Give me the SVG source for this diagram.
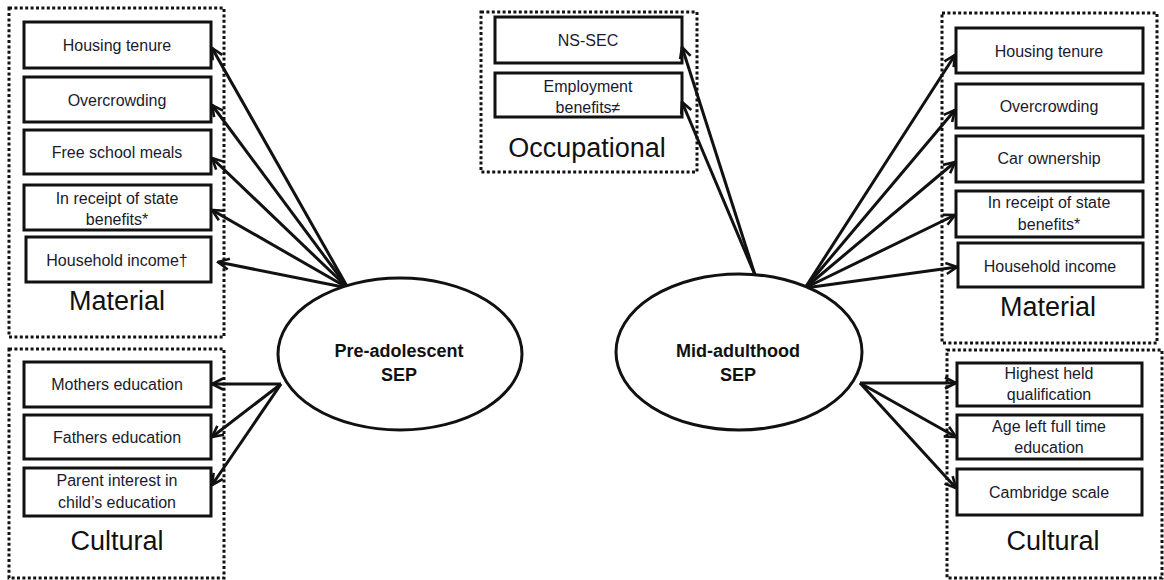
<svg xmlns="http://www.w3.org/2000/svg" width="1164" height="580" viewBox="0 0 1164 580">
  <style>
    .group { fill: none; stroke: #111; stroke-width: 3; stroke-dasharray: 3 2.4; }
    .box { fill: #fff; stroke: #111; stroke-width: 3; }
    .item { font-family: "Liberation Sans", Arial, sans-serif; font-size: 16px; fill: #1a1a2e; text-anchor: middle; }
    .glabel { font-family: "Liberation Sans", Arial, sans-serif; font-size: 27px; fill: #111; text-anchor: middle; }
    .latent { fill: #fff; stroke: #111; stroke-width: 3; }
    .ltext { font-family: "Liberation Sans", Arial, sans-serif; font-size: 18px; font-weight: bold; fill: #111; text-anchor: middle; }
    .edge { stroke: #111; stroke-width: 3; fill: none; marker-end: url(#open); }
  </style>
  <defs>
    <marker id="open" viewBox="0 0 14 14" refX="12.5" refY="7" markerWidth="14" markerHeight="14" markerUnits="userSpaceOnUse" orient="auto">
      <path d="M1.5,1.5 L12.5,7 L1.5,12.5" fill="none" stroke="#111" stroke-width="2.6" stroke-linejoin="miter"/>
    </marker>
  </defs>

  <rect width="1164" height="580" fill="#fff"/>

  <!-- Pre-adolescent material indicators -->
  <g id="pre-material">
    <rect class="group" x="9" y="8" width="215" height="329"/>
    <text class="glabel" x="117" y="310">Material</text>
  </g>
  <g id="pre-housing-tenure">
    <rect class="box" x="24" y="22" width="187" height="46"/>
    <text class="item" x="117" y="51">Housing tenure</text>
  </g>
  <g id="pre-overcrowding">
    <rect class="box" x="24" y="77" width="187" height="45"/>
    <text class="item" x="117" y="106">Overcrowding</text>
  </g>
  <g id="pre-free-school-meals">
    <rect class="box" x="24" y="130" width="187" height="44"/>
    <text class="item" x="117" y="158">Free school meals</text>
  </g>
  <g id="pre-state-benefits">
    <rect class="box" x="24" y="185" width="187" height="45"/>
    <text class="item" x="117" y="204">In receipt of state</text>
    <text class="item" x="117" y="225">benefits*</text>
  </g>
  <g id="pre-household-income">
    <rect class="box" x="26" y="237" width="185" height="45"/>
    <text class="item" x="117" y="266">Household income†</text>
  </g>

  <!-- Pre-adolescent cultural indicators -->
  <g id="pre-cultural">
    <rect class="group" x="9" y="349" width="215" height="229"/>
    <text class="glabel" x="117" y="550">Cultural</text>
  </g>
  <g id="pre-mothers-education">
    <rect class="box" x="24" y="362" width="187" height="45"/>
    <text class="item" x="117" y="390">Mothers education</text>
  </g>
  <g id="pre-fathers-education">
    <rect class="box" x="24" y="415" width="187" height="44"/>
    <text class="item" x="117" y="443">Fathers education</text>
  </g>
  <g id="pre-parent-interest">
    <rect class="box" x="24" y="468" width="187" height="48"/>
    <text class="item" x="117" y="486">Parent interest in</text>
    <text class="item" x="117" y="508">child’s education</text>
  </g>

  <!-- Occupational indicators -->
  <g id="occupational">
    <rect class="group" x="481" y="12" width="216" height="160"/>
    <text class="glabel" x="587" y="157">Occupational</text>
  </g>
  <g id="ns-sec">
    <rect class="box" x="495" y="17" width="187" height="46"/>
    <text class="item" x="588" y="46">NS-SEC</text>
  </g>
  <g id="employment-benefits">
    <rect class="box" x="495" y="73" width="187" height="44"/>
    <text class="item" x="588" y="92">Employment</text>
    <text class="item" x="588" y="113">benefits≠</text>
  </g>

  <!-- Mid-adulthood material indicators -->
  <g id="mid-material">
    <rect class="group" x="942" y="13" width="215" height="330"/>
    <text class="glabel" x="1048" y="316">Material</text>
  </g>
  <g id="mid-housing-tenure">
    <rect class="box" x="956" y="28" width="187" height="45"/>
    <text class="item" x="1049" y="57">Housing tenure</text>
  </g>
  <g id="mid-overcrowding">
    <rect class="box" x="956" y="84" width="187" height="44"/>
    <text class="item" x="1049" y="112">Overcrowding</text>
  </g>
  <g id="mid-car-ownership">
    <rect class="box" x="956" y="136" width="187" height="46"/>
    <text class="item" x="1049" y="164">Car ownership</text>
  </g>
  <g id="mid-state-benefits">
    <rect class="box" x="956" y="191" width="187" height="46"/>
    <text class="item" x="1049" y="208">In receipt of state</text>
    <text class="item" x="1049" y="230">benefits*</text>
  </g>
  <g id="mid-household-income">
    <rect class="box" x="958" y="243" width="185" height="44"/>
    <text class="item" x="1050" y="272">Household income</text>
  </g>

  <!-- Mid-adulthood cultural indicators -->
  <g id="mid-cultural">
    <rect class="group" x="947" y="350" width="215" height="228"/>
    <text class="glabel" x="1053" y="550">Cultural</text>
  </g>
  <g id="mid-highest-qualification">
    <rect class="box" x="957" y="363" width="185" height="43"/>
    <text class="item" x="1049" y="379">Highest held</text>
    <text class="item" x="1049" y="400">qualification</text>
  </g>
  <g id="mid-age-left-education">
    <rect class="box" x="957" y="415" width="185" height="44"/>
    <text class="item" x="1049" y="432">Age left full time</text>
    <text class="item" x="1049" y="453">education</text>
  </g>
  <g id="mid-cambridge-scale">
    <rect class="box" x="957" y="469" width="185" height="46"/>
    <text class="item" x="1049" y="498">Cambridge scale</text>
  </g>

  <!-- Loadings from each latent SEP construct to its indicators -->
  <g id="connectors">
    <line class="edge" x1="348" y1="288" x2="212" y2="48"/>
    <line class="edge" x1="348" y1="288" x2="212" y2="105"/>
    <line class="edge" x1="348" y1="288" x2="212" y2="158"/>
    <line class="edge" x1="348" y1="288" x2="212" y2="210"/>
    <line class="edge" x1="348" y1="288" x2="218" y2="262"/>

    <line class="edge" x1="281" y1="384" x2="212" y2="384"/>
    <line class="edge" x1="281" y1="384" x2="212" y2="437"/>
    <line class="edge" x1="281" y1="384" x2="212" y2="485"/>

    <line class="edge" x1="755" y1="275" x2="682" y2="47"/>
    <line class="edge" x1="755" y1="275" x2="682" y2="102"/>

    <line class="edge" x1="805" y1="288" x2="955" y2="55"/>
    <line class="edge" x1="805" y1="288" x2="955" y2="110"/>
    <line class="edge" x1="805" y1="288" x2="955" y2="162"/>
    <line class="edge" x1="805" y1="288" x2="955" y2="215"/>
    <line class="edge" x1="805" y1="288" x2="957" y2="267"/>

    <line class="edge" x1="860" y1="383" x2="956" y2="383"/>
    <line class="edge" x1="860" y1="383" x2="956" y2="437"/>
    <line class="edge" x1="860" y1="383" x2="956" y2="488"/>
  </g>

  <!-- Latent constructs -->
  <g id="pre-adolescent-sep">
    <ellipse class="latent" cx="400" cy="354" rx="122" ry="76"/>
    <text class="ltext" x="399" y="357">Pre-adolescent</text>
    <text class="ltext" x="399" y="381">SEP</text>
  </g>
  <g id="mid-adulthood-sep">
    <ellipse class="latent" cx="739" cy="352" rx="123" ry="78"/>
    <text class="ltext" x="738" y="357">Mid-adulthood</text>
    <text class="ltext" x="738" y="381">SEP</text>
  </g>
</svg>
